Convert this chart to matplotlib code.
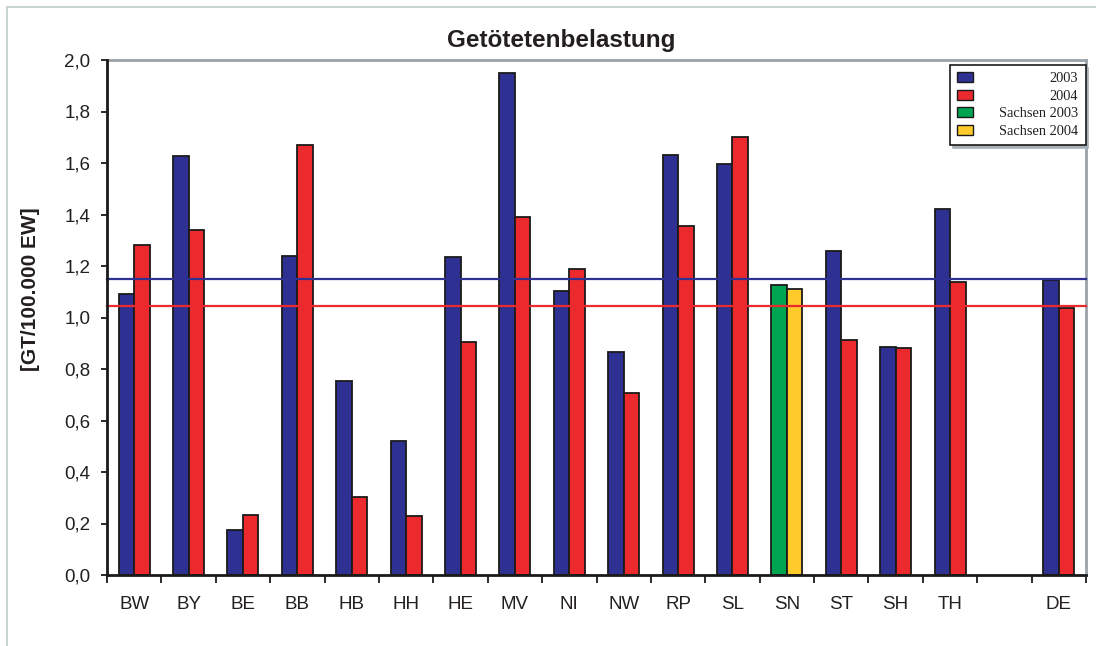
import numpy as np
import matplotlib
matplotlib.use("Agg")
import matplotlib.pyplot as plt
from matplotlib.patches import Patch
from matplotlib.lines import Line2D

# ---- data ----
categories = ["BW", "BY", "BE", "BB", "HB", "HH", "HE", "MV", "NI", "NW",
              "RP", "SL", "SN", "ST", "SH", "TH", "", "DE"]
values_2003 = [1.091, 1.626, 0.175, 1.240, 0.753, 0.520, 1.234, 1.950, 1.104, 0.866,
               1.631, 1.596, np.nan, 1.257, 0.885, 1.421, np.nan, 1.146]
values_2004 = [1.282, 1.340, 0.233, 1.671, 0.303, 0.229, 0.905, 1.389, 1.188, 0.707,
               1.357, 1.700, np.nan, 0.913, 0.882, 1.139, np.nan, 1.038]
sachsen_category = "SN"
sachsen_2003 = 1.126
sachsen_2004 = 1.109
mean_2003 = 1.149
mean_2004 = 1.043
yticks = [0.0, 0.2, 0.4, 0.6, 0.8, 1.0, 1.2, 1.4, 1.6, 1.8, 2.0]
legend_labels = ["2003", "2004", "Sachsen 2003", "Sachsen 2004"]
title = "Getötetenbelastung"
ylabel = "[GT/100.000 EW]"

# ---- style ----
c_blue = "#2f3192"
c_red = "#ec2a2e"
c_green = "#00a551"
c_yellow = "#ffcb2a"
txt_col = "#231f20"
grey = "#9aa3aa"

plt.rcParams["font.family"] = ["Liberation Sans", "DejaVu Sans"]

fig = plt.figure(figsize=(10.96, 6.46), dpi=100)
ax = fig.add_axes([107/1096, 71/646, (1086-107)/1096, (575-60)/646])

x = np.arange(len(categories))
w = 0.285
ax.bar(x - w/2, values_2003, width=w, color=c_blue, edgecolor="#1a1a1a", linewidth=1.3, zorder=3)
ax.bar(x + w/2, values_2004, width=w, color=c_red, edgecolor="#1a1a1a", linewidth=1.3, zorder=3)
si = categories.index(sachsen_category)
ax.bar([si - w/2], [sachsen_2003], width=w, color=c_green, edgecolor="#1a1a1a", linewidth=1.3, zorder=3)
ax.bar([si + w/2], [sachsen_2004], width=w, color=c_yellow, edgecolor="#1a1a1a", linewidth=1.3, zorder=3)

ax.axhline(mean_2003, color=c_blue, linewidth=1.6, zorder=4, clip_on=False)
ax.axhline(mean_2004, color=c_red, linewidth=1.6, zorder=4, clip_on=False)

ax.set_xlim(-0.5, len(categories) - 0.5)
ax.set_ylim(0, 2.0)
ax.set_yticks(yticks)
ax.set_yticklabels([f"{v:.1f}".replace(".", ",") for v in yticks], fontsize=13.5, color=txt_col)
ax.set_xticks(x)
ax.set_xticklabels(categories, fontsize=13.5, color=txt_col)
ax.tick_params(axis="x", which="major", length=0, pad=15)
ax.set_xticks(np.arange(len(categories) + 1) - 0.5, minor=True)
ax.tick_params(axis="x", which="minor", length=5.5, width=1.3, color="#1a1a1a", direction="out")
ax.tick_params(axis="y", length=4, width=1.3, color="#1a1a1a", direction="out", pad=8)

for s in ["left", "bottom"]:
    ax.spines[s].set_color("#1a1a1a")
    ax.spines[s].set_linewidth(2)
for s in ["top", "right"]:
    ax.spines[s].set_color(grey)
    ax.spines[s].set_linewidth(2)
ax.spines["left"].set_zorder(5)
ax.spines["bottom"].set_zorder(5)

fig.text(31/1096, 1 - 289/646, ylabel, rotation=90, ha="center", va="center",
         fontsize=15, fontweight="bold", color=txt_col)
fig.text(561/1096, 1 - 41/646, title, ha="center", va="center", fontsize=17.5,
         fontweight="bold", color=txt_col)

handles = [Patch(facecolor=c, edgecolor="#1a1a1a", linewidth=1.0)
           for c in [c_blue, c_red, c_green, c_yellow]]
leg = ax.legend(handles, legend_labels, loc="upper right", bbox_to_anchor=(0.9995, 0.99),
                prop={"family": "Liberation Serif", "size": 10.4},
                frameon=True, fancybox=False, shadow={"color": "#a8b0b6", "alpha": 1},
                handlelength=1.1, handleheight=0.7, handletextpad=1.8,
                labelspacing=0.3, borderpad=0.5, borderaxespad=0.0)
leg.get_frame().set_edgecolor("#1a1a1a")
leg.get_frame().set_linewidth(1.2)
for t in leg.get_texts():
    t.set_color(txt_col)
leg.set_zorder(10)

# right-align legend texts while keeping handles at left
fig.canvas.draw()
renderer = fig.canvas.get_renderer()
rows = []
for col in leg._legend_handle_box.get_children():
    rows.extend(col.get_children())
maxw = max(r.get_bbox(renderer).width for r in rows)
for r in rows:
    r.width = maxw
    r.mode = "expand"

# outer frame lines (partial, as in reference)
fig.add_artist(Line2D([7/1096, 7/1096], [0, 1 - 7/646], transform=fig.transFigure,
                      color="#c9d3cf", linewidth=1.5))
fig.add_artist(Line2D([7/1096, 1], [1 - 7/646, 1 - 7/646], transform=fig.transFigure,
                      color="#c9d3cf", linewidth=1.5))

fig.savefig("out.png", dpi=100)
